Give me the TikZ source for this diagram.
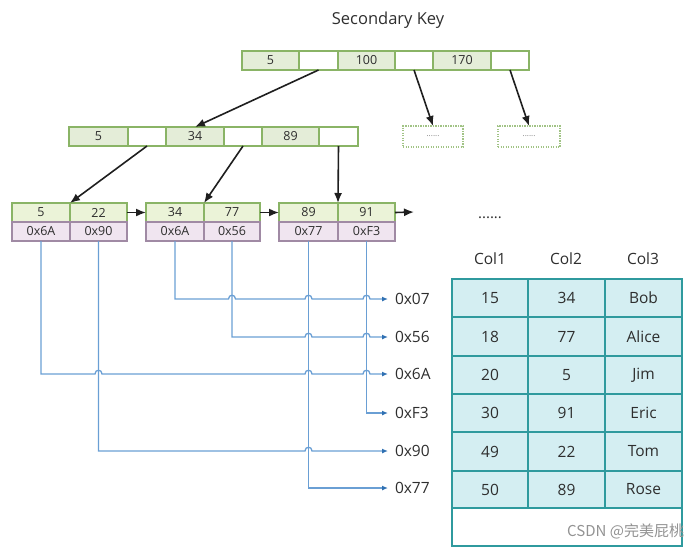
\documentclass[tikz,border=0pt]{standalone}
\usepackage{fontspec}
\setmainfont{Open Sans}
\newfontfamily\cjkfont{Noto Sans CJK SC}
\usetikzlibrary{arrows.meta}
\definecolor{gfill}{HTML}{E4EDD8}
\definecolor{lfill}{HTML}{EBF3D8}
\definecolor{gline}{HTML}{8AB466}
\definecolor{pfill}{HTML}{F0E5F0}
\definecolor{pline}{HTML}{A08AA4}
\definecolor{tfill}{HTML}{D4EEF2}
\definecolor{tline}{HTML}{2F9A9E}
\definecolor{bline}{HTML}{6A9FD4}
\definecolor{btip}{HTML}{2F70B2}
\definecolor{txt}{HTML}{2E2E2E}
\newcommand\cellat[7]{\node[#1, minimum width={(#4-#2)*1pt}, minimum height={(#5-#3)*1pt}, anchor=north west] (#6) at (#2,#3) {#7};}
\tikzset{
  base/.style={inner sep=0pt, outer sep=0pt, text=txt},
  gcell/.style={base, draw=gline, fill=gfill, line width=1.1pt, font=\fontsize{12.5}{12.5}\selectfont},
  wcell/.style={base, draw=gline, fill=white, line width=1.1pt},
  lcell/.style={base, draw=gline, fill=lfill, line width=1.1pt, font=\fontsize{12.5}{12.5}\selectfont},
  pcell/.style={base, draw=pline, fill=pfill, line width=1.1pt, font=\fontsize{12.5}{12.5}\selectfont},
  dbox/.style={base, draw=gline!80, line width=1.3pt, dash pattern=on 1.3pt off 1.2pt, font=\fontsize{8}{8}\selectfont, text=gray},
  tcell/.style={base, draw=tline, fill=tfill, line width=1.5pt, font=\fontsize{15.5}{15.5}\selectfont},
  twhite/.style={base, draw=tline, fill=white, line width=1.5pt},
  hdr/.style={base, font=\fontsize{15.5}{15.5}\selectfont},
  addr/.style={base, anchor=west, inner xsep=7pt, font=\fontsize{15.5}{15.5}\selectfont},
  treearrow/.style={line width=1.6pt, black!88, -{Latex[length=10pt,width=8pt]}},
  ptr/.style={line width=1.3pt, bline, -{Latex[length=6pt,width=5pt,color=btip]}},
  jumpover/.style 2 args={insert path={-- ({#1-3.5},#2) .. controls ({#1-3.5},{#2-5}) and ({#1+3.5},{#2-5}) .. ({#1+3.5},#2)}}
}
\begin{document}
\begin{tikzpicture}[x=1pt,y=-1pt]
\useasboundingbox (0,0) rectangle (700,552);
% title
\node[base, font=\fontsize{16.5}{16.5}\selectfont] (title) at (388,20) {Secondary Key};
% root node
\cellat{gcell}{242}{51}{299}{70}{t1}{5}
\cellat{wcell}{299}{51}{338}{70}{t2}{}
\cellat{gcell}{338}{51}{395}{70}{t3}{100}
\cellat{wcell}{395}{51}{433}{70}{t4}{}
\cellat{gcell}{433}{51}{491}{70}{t5}{170}
\cellat{wcell}{491}{51}{529}{70}{t6}{}
% level 2
\cellat{gcell}{69}{127}{128}{146}{s1}{5}
\cellat{wcell}{128}{127}{166}{146}{s2}{}
\cellat{gcell}{166}{127}{224}{146}{s3}{34}
\cellat{wcell}{224}{127}{262}{146}{s4}{}
\cellat{gcell}{262}{127}{319}{146}{s5}{89}
\cellat{wcell}{319}{127}{358}{146}{s6}{}
% dashed placeholders
\cellat{dbox}{403}{126}{463}{147}{d1}{......}
\cellat{dbox}{498}{126}{560}{147}{d2}{......}
% leaves
\cellat{lcell}{12}{203}{70}{222}{a1}{5}
\cellat{lcell}{70}{203}{127}{222}{a2}{22}
\cellat{pcell}{12}{222}{70}{241}{a3}{0x6A}
\cellat{pcell}{70}{222}{127}{241}{a4}{0x90}
\cellat{lcell}{146}{203}{204}{222}{b1}{34}
\cellat{lcell}{204}{203}{260}{222}{b2}{77}
\cellat{pcell}{146}{222}{204}{241}{b3}{0x6A}
\cellat{pcell}{204}{222}{260}{241}{b4}{0x56}
\cellat{lcell}{279}{203}{338}{222}{c1}{89}
\cellat{lcell}{338}{203}{395}{222}{c2}{91}
\cellat{pcell}{279}{222}{338}{241}{c3}{0x77}
\cellat{pcell}{338}{222}{395}{241}{c4}{0xF3}
\coordinate (nextleaf) at (414,212);
% tree arrows
\draw[treearrow] (t2.south) -- (s3.north);
\draw[treearrow] (t4.south) -- (d1.north);
\draw[treearrow] (t6.south) -- (d2.north);
\draw[treearrow] (s2.south) -- (a1.north east);
\draw[treearrow] (s4.south) -- (b1.north east);
\draw[treearrow] (s6.south) -- (c1.north east);
\draw[treearrow] (a2.east) -- (b1.west);
\draw[treearrow] (b2.east) -- (c1.west);
\draw[treearrow] (c2.east) -- (nextleaf);
% dots
\node[base, font=\fontsize{15}{15}\selectfont] (dots) at (490,218) {......};
% address labels
\node[addr] (l07) at (388,299) {0x07};
\node[addr] (l56) at (388,337) {0x56};
\node[addr] (l6A) at (388,374) {0x6A};
\node[addr] (lF3) at (388,413) {0xF3};
\node[addr] (l90) at (388,451) {0x90};
\node[addr] (l77) at (388,488) {0x77};
% pointer lines
\draw[ptr] (b3.south) -- (b3.south |- l07.west) [jumpover={232}{299}] [jumpover={308.5}{299}] [jumpover={366.5}{299}] -- (l07.west);
\draw[ptr] (b4.south) -- (b4.south |- l56.west) [jumpover={308.5}{337}] [jumpover={366.5}{337}] -- (l56.west);
\draw[ptr] (a3.south) -- (a3.south |- l6A.west) [jumpover={98.5}{374}] [jumpover={308.5}{374}] [jumpover={366.5}{374}] -- (l6A.west);
\draw[ptr] (c4.south) -- (c4.south |- lF3.west) -- (lF3.west);
\draw[ptr] (a4.south) -- (a4.south |- l90.west) [jumpover={308.5}{451}] -- (l90.west);
\draw[ptr] (c3.south) -- (c3.south |- l77.west) -- (l77.west);
% table headers
\node[hdr] (h1) at (490,259) {Col1};
\node[hdr] (h2) at (566,259) {Col2};
\node[hdr] (h3) at (643,259) {Col3};
% table
\cellat{tcell}{452}{279}{528}{317}{r11}{15}
\cellat{tcell}{528}{279}{605}{317}{r12}{34}
\cellat{tcell}{605}{279}{682}{317}{r13}{Bob}
\cellat{tcell}{452}{317}{528}{356}{r21}{18}
\cellat{tcell}{528}{317}{605}{356}{r22}{77}
\cellat{tcell}{605}{317}{682}{356}{r23}{Alice}
\cellat{tcell}{452}{356}{528}{394}{r31}{20}
\cellat{tcell}{528}{356}{605}{394}{r32}{5}
\cellat{tcell}{605}{356}{682}{394}{r33}{Jim}
\cellat{tcell}{452}{394}{528}{432}{r41}{30}
\cellat{tcell}{528}{394}{605}{432}{r42}{91}
\cellat{tcell}{605}{394}{682}{432}{r43}{Eric}
\cellat{tcell}{452}{432}{528}{471}{r51}{49}
\cellat{tcell}{528}{432}{605}{471}{r52}{22}
\cellat{tcell}{605}{432}{682}{471}{r53}{Tom}
\cellat{tcell}{452}{471}{528}{508}{r61}{50}
\cellat{tcell}{528}{471}{605}{508}{r62}{89}
\cellat{tcell}{605}{471}{682}{508}{r63}{Rose}
\cellat{twhite}{452}{508}{682}{546}{r7}{}
% watermark
\node[base, text=gray!85, font=\cjkfont\fontsize{15}{15}\selectfont, anchor=east] (wm) at (684,531) {CSDN @完美屁桃};
\end{tikzpicture}
\end{document}
